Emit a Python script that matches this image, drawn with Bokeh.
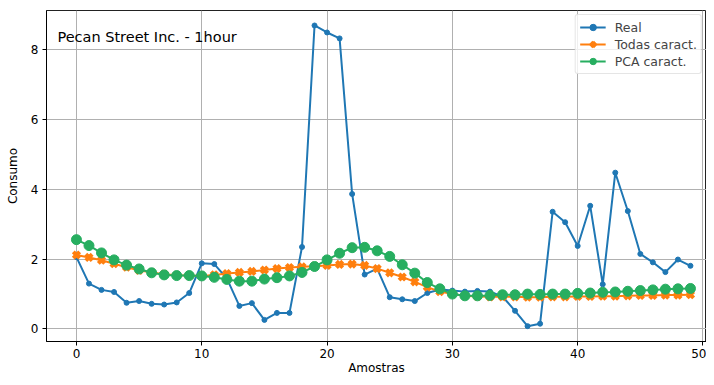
import numpy as np
from bokeh.plotting import figure
from bokeh.models import Range1d, Label, Legend, LegendItem, FixedTicker
from bokeh.embed import file_html
from bokeh.resources import INLINE

amostras = list(range(50))
real = [2.06, 1.30, 1.12, 1.06, 0.75, 0.80, 0.72, 0.70, 0.76, 1.03,
        1.88, 1.86, 1.45, 0.66, 0.74, 0.26, 0.46, 0.46, 2.35, 8.70,
        8.50, 8.33, 3.87, 1.56, 1.73, 0.91, 0.85, 0.80, 1.03, 1.13,
        1.10, 1.07, 1.09, 1.07, 0.93, 0.52, 0.08, 0.15, 3.36, 3.06,
        2.38, 3.53, 1.28, 4.48, 3.38, 2.15, 1.91, 1.63, 1.99, 1.81]
todas = [2.12, 2.05, 1.97, 1.87, 1.77, 1.68, 1.62, 1.57, 1.54, 1.53,
         1.52, 1.55, 1.59, 1.62, 1.65, 1.69, 1.73, 1.76, 1.78, 1.80,
         1.82, 1.85, 1.86, 1.82, 1.73, 1.61, 1.49, 1.35, 1.20, 1.07,
         1.00, 0.95, 0.93, 0.92, 0.92, 0.92, 0.91, 0.91, 0.92, 0.92,
         0.93, 0.93, 0.94, 0.94, 0.95, 0.96, 0.96, 0.97, 0.97, 0.98]
pca = [2.56, 2.39, 2.18, 1.98, 1.83, 1.72, 1.61, 1.55, 1.53, 1.53,
       1.52, 1.48, 1.42, 1.37, 1.37, 1.43, 1.47, 1.52, 1.62, 1.79,
       1.98, 2.17, 2.33, 2.34, 2.24, 2.08, 1.84, 1.60, 1.33, 1.15,
       1.00, 0.95, 0.95, 0.96, 0.98, 0.98, 1.00, 0.99, 1.00, 1.00,
       1.02, 1.03, 1.05, 1.06, 1.08, 1.10, 1.12, 1.14, 1.15, 1.16]
x_ticks = [0, 10, 20, 30, 40, 50]
y_ticks = [0, 2, 4, 6, 8]
title_text = "Pecan Street Inc. - 1hour"
labels = ["Real", "Todas caract.", "PCA caract."]

FONT = "DejaVu Sans"
BLUE = "#1f77b4"
ORANGE = "#ff7f0e"
GREEN = "#27ae60"

p = figure(width=706, height=377, output_backend="svg", toolbar_location=None,
           x_range=Range1d(-2.39, 50.28), y_range=Range1d(-0.36, 9.13),
           min_border_left=46, min_border_right=0, min_border_top=10,
           min_border_bottom=33)

p.outline_line_color = "#222222"
p.outline_line_width = 1
p.background_fill_color = "white"
p.border_fill_color = "white"

for ax in (p.xaxis[0], p.yaxis[0]):
    ax.major_tick_in = 0
    ax.major_tick_out = 4
    ax.minor_tick_line_color = None
    ax.axis_line_color = "black"
    ax.major_tick_line_color = "black"
    ax.major_label_text_font = FONT
    ax.major_label_text_font_size = "12px"
    ax.major_label_text_color = "black"
    ax.axis_label_text_font = FONT
    ax.axis_label_text_font_size = "12px"
    ax.axis_label_text_font_style = "normal"
    ax.axis_label_text_color = "black"

p.xaxis.ticker = FixedTicker(ticks=x_ticks)
p.yaxis.ticker = FixedTicker(ticks=y_ticks)
p.xaxis.axis_label = "Amostras"
p.yaxis.axis_label = "Consumo"
p.xaxis.axis_label_standoff = 0
p.yaxis.axis_label_standoff = 8
p.xaxis.major_label_standoff = 3
p.yaxis.major_label_standoff = 4

p.grid.grid_line_color = "#b0b0b0"
p.grid.grid_line_width = 1

r_line = p.line(amostras, real, line_color=BLUE, line_width=2)
r_pts = p.scatter(amostras, real, marker="circle", size=5, color=BLUE)

t_line = p.line(amostras, todas, line_color=ORANGE, line_width=2)
t_pts = p.scatter(amostras, todas, marker="x", size=9, line_color=ORANGE,
                  line_width=4)

g_line = p.line(amostras, pca, line_color=GREEN, line_width=2)
g_pts = p.scatter(amostras, pca, marker="circle", size=10, color=GREEN)

p.add_layout(Label(x=-1.52, y=8.37, text=title_text, text_font=FONT,
                   text_font_size="14.5px", text_color="black",
                   text_baseline="alphabetic"))

legend = Legend(items=[
    LegendItem(label=labels[0], renderers=[r_line, r_pts]),
    LegendItem(label=labels[1], renderers=[t_line, t_pts]),
    LegendItem(label=labels[2], renderers=[g_line, g_pts]),
], location="top_right")
legend.margin = 4
legend.padding = 4
legend.spacing = 1
legend.glyph_width = 26
legend.glyph_height = 16
legend.label_standoff = 9
legend.label_text_font = FONT
legend.label_text_font_size = "12.5px"
legend.label_height = 16
legend.border_line_color = "#cccccc"
legend.border_line_width = 1
legend.background_fill_alpha = 0.8
legend.border_radius = 3
p.add_layout(legend)

open("out.html", "w").write(file_html(p, INLINE))
